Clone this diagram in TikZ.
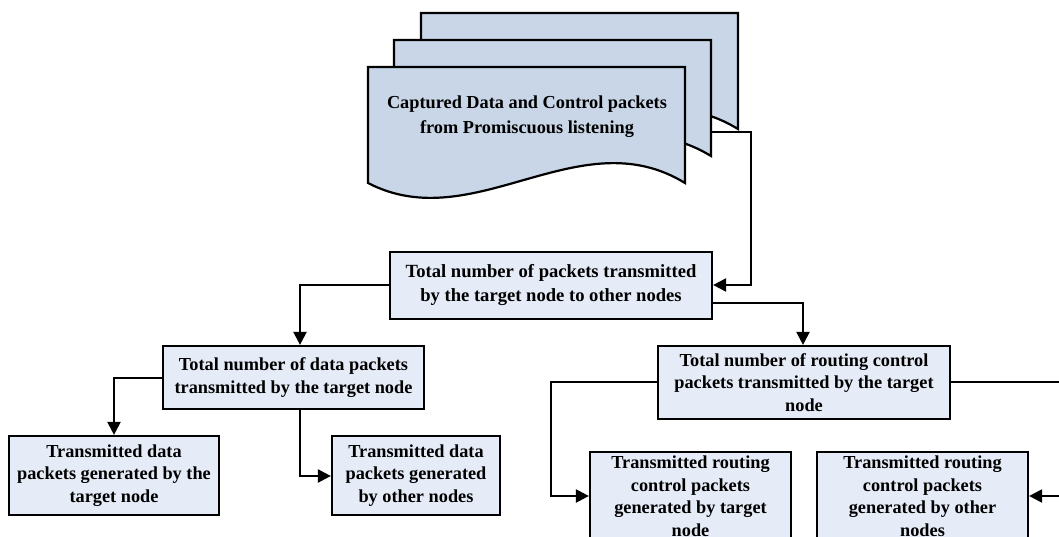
\documentclass[tikz,border=0pt]{standalone}
\usepackage{fontspec}
\setmainfont{Liberation Serif}
\usetikzlibrary{arrows.meta}
\definecolor{docfill}{HTML}{C8D6E7}
\definecolor{boxfill}{HTML}{E6ECF7}
\tikzset{
  box/.style={draw=black, line width=2.2pt, fill=boxfill, align=center,
    inner sep=0pt, font=\bfseries\fontsize{18.3}{22.5}\selectfont},
  doc/.style={draw=black, line width=2.2pt, fill=docfill},
  link/.style={draw=black, line width=2.2pt, -{Triangle[length=13pt,width=13pt]}},
}
% one sheet of the stacked document symbol, top-left corner at (#1,#2)
\newcommand{\docsheet}[2]{%
  \path[doc] (#1,#2) -- (#1+317,#2) -- (#1+317,#2+116)
    .. controls (#1+211,#2+51) and (#1+106,#2+171) .. (#1,#2+116) -- cycle;}
\begin{document}
\begin{tikzpicture}[x=1pt,y=-1pt]
\clip (0,0) rectangle (1059,537);
\fill[white] (0,0) rectangle (1059,537);

% stacked documents
\docsheet{421}{13}
\docsheet{394}{40}
\docsheet{368}{67}
\node[font=\bfseries\fontsize{18.3}{25}\selectfont, align=center] (src) at (527,117)
  {Captured Data and Control packets\\from Promiscuous listening};
\coordinate (srcout) at (712,132);

% boxes
\node[box, minimum width=322pt, minimum height=67pt, font=\bfseries\fontsize{18.6}{24}\selectfont] (total) at (551,285.5)
  {Total number of packets transmitted\\by the target node to other nodes};
\node[box, minimum width=261pt, minimum height=63pt] (data) at (293.5,377.5)
  {Total number of data packets\\transmitted by the target node};
\node[box, minimum width=292pt, minimum height=73pt] (ctrl) at (804,382.5)
  {Total number of routing control\\packets transmitted by the target\\node};
\node[box, minimum width=210pt, minimum height=79pt] (dself) at (114,475.5)
  {Transmitted data\\packets generated by the\\target node};
\node[box, minimum width=168pt, minimum height=79pt] (dother) at (416,475.5)
  {Transmitted data\\packets generated\\by other nodes};
\node[box, minimum width=201pt, minimum height=88pt] (cself) at (690.5,496)
  {Transmitted routing\\control packets\\generated by target\\node};
\node[box, minimum width=211pt, minimum height=88pt] (cother) at (922.5,496)
  {Transmitted routing\\control packets\\generated by other\\nodes};

% connectors
\draw[link] (srcout) -- (751,132) |- (total.east |- 0,285);
\draw[link] (total.west |- 0,285) -| (data.north -| 300,0);
\draw[link] (total.east |- 0,303) -| (ctrl.north -| 803,0);
\draw[link] (data.west |- 0,378) -| (dself.north -| 114,0);
\draw[link] (data.south -| 300,0) |- (dother.west |- 0,476);
\draw[link] (ctrl.west |- 0,382) -| (551,440) |- (cself.west |- 0,496);
\draw[link] (ctrl.east |- 0,382) -| (1070,440) |- (cother.east |- 0,496);
\end{tikzpicture}
\end{document}
